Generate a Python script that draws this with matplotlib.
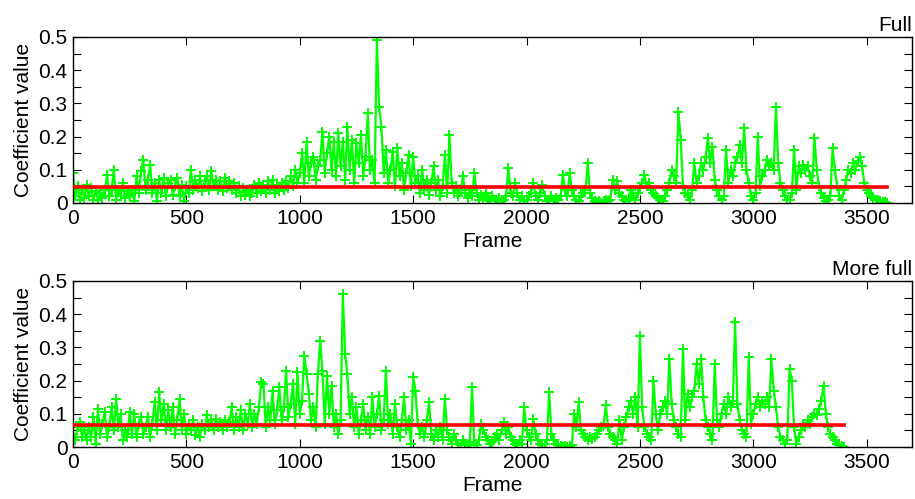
import numpy as np
import matplotlib
matplotlib.use("Agg")
import matplotlib.pyplot as plt
from matplotlib.ticker import MultipleLocator

plt.rcParams['font.family'] = ['Liberation Sans', 'DejaVu Sans']

# Coefficient values sampled every 10 frames
frame_step = 10

full_values = [
    0.09, 0.02, 0.05, 0.01, 0.04, 0.015, 0.055, 0.02, 0.045, 0.01,
    0.035, 0.01, 0.03, 0.015, 0.04, 0.085, 0.02, 0.04, 0.1, 0.01,
    0.04, 0.02, 0.06, 0.015, 0.035, 0.02, 0.04, 0.005, 0.08, 0.03,
    0.095, 0.13, 0.04, 0.07, 0.115, 0.03, 0.06, 0.005, 0.07, 0.03,
    0.075, 0.02, 0.06, 0.07, 0.025, 0.05, 0.075, 0.02, 0.055, 0.005,
    0.05, 0.03, 0.1, 0.04, 0.07, 0.045, 0.08, 0.035, 0.065, 0.08,
    0.04, 0.095, 0.05, 0.07, 0.04, 0.065, 0.035, 0.075, 0.045, 0.065,
    0.04, 0.06, 0.03, 0.05, 0.02, 0.045, 0.025, 0.04, 0.02, 0.03,
    0.055, 0.03, 0.06, 0.035, 0.055, 0.03, 0.065, 0.04, 0.07, 0.03,
    0.055, 0.035, 0.06, 0.04, 0.065, 0.045, 0.08, 0.05, 0.1, 0.06,
    0.09, 0.15, 0.06, 0.185, 0.08, 0.12, 0.14, 0.07, 0.11, 0.13,
    0.215, 0.09, 0.15, 0.2, 0.1, 0.185, 0.08, 0.21, 0.11, 0.185,
    0.07, 0.23, 0.1, 0.19, 0.06, 0.18, 0.12, 0.205, 0.08, 0.14,
    0.27, 0.1, 0.13, 0.06, 0.49, 0.29, 0.23, 0.09, 0.16, 0.06,
    0.1, 0.155, 0.05, 0.165, 0.08, 0.12, 0.04, 0.09, 0.145, 0.05,
    0.14, 0.06, 0.08, 0.03, 0.1, 0.04, 0.07, 0.025, 0.06, 0.11,
    0.04, 0.07, 0.02, 0.05, 0.145, 0.03, 0.205, 0.06, 0.03, 0.05,
    0.02, 0.04, 0.08, 0.03, 0.015, 0.04, 0.02, 0.09, 0.03, 0.01,
    0.025, 0.01, 0.03, 0.015, 0.005, 0.02, 0.01, 0.005, 0.015, 0.005,
    0.01, 0.02, 0.105, 0.03, 0.02, 0.06, 0.03, 0.01, 0.02, 0.005,
    0.01, 0.02, 0.03, 0.06, 0.02, 0.01, 0.03, 0.055, 0.02, 0.005,
    0.01, 0.02, 0.005, 0.015, 0.01, 0.02, 0.085, 0.04, 0.02, 0.09,
    0.04, 0.02, 0.01, 0.005, 0.02, 0.03, 0.04, 0.12, 0.03, 0.015,
    0.005, 0.0, 0.005, 0.0, 0.005, 0.01, 0.005, 0.01, 0.07, 0.04,
    0.065, 0.03, 0.02, 0.01, 0.005, 0.015, 0.04, 0.02, 0.01, 0.03,
    0.045, 0.06, 0.085, 0.05, 0.06, 0.04, 0.03, 0.02, 0.015, 0.01,
    0.005, 0.02, 0.04, 0.06, 0.1, 0.08, 0.06, 0.275, 0.19, 0.05,
    0.03, 0.02, 0.01, 0.04, 0.12, 0.06, 0.08, 0.12, 0.1, 0.14,
    0.195, 0.12, 0.17, 0.07, 0.04, 0.02, 0.01, 0.02, 0.16, 0.06,
    0.1, 0.08, 0.12, 0.14, 0.175, 0.12, 0.225, 0.1, 0.06, 0.02,
    0.01, 0.03, 0.2, 0.05, 0.08, 0.1, 0.13, 0.11, 0.12, 0.1,
    0.29, 0.12, 0.06, 0.04, 0.02, 0.01, 0.01, 0.03, 0.16, 0.04,
    0.11, 0.09, 0.115, 0.1, 0.11, 0.08, 0.06, 0.195, 0.1, 0.05,
    0.03, 0.015, 0.005, 0.01, 0.02, 0.165, 0.1, 0.05, 0.02, 0.01,
    0.04, 0.07, 0.1, 0.09, 0.12, 0.1, 0.125, 0.14, 0.11, 0.06,
    0.04, 0.03, 0.02, 0.015, 0.01, 0.008, 0.005, 0.004, 0.002, 0.001,
]

more_full_values = [
    0.04, 0.02, 0.06, 0.075, 0.03, 0.05, 0.02, 0.06, 0.03, 0.09,
    0.01, 0.115, 0.04, 0.07, 0.105, 0.03, 0.06, 0.12, 0.05, 0.145,
    0.06, 0.1, 0.02, 0.05, 0.03, 0.105, 0.04, 0.1, 0.03, 0.07,
    0.09, 0.04, 0.06, 0.09, 0.03, 0.07, 0.135, 0.05, 0.165, 0.08,
    0.13, 0.05, 0.11, 0.06, 0.12, 0.04, 0.08, 0.145, 0.05, 0.1,
    0.04, 0.07, 0.05, 0.08, 0.035, 0.06, 0.03, 0.07, 0.05, 0.095,
    0.06, 0.08, 0.05, 0.085, 0.06, 0.075, 0.05, 0.08, 0.06, 0.075,
    0.12, 0.05, 0.09, 0.06, 0.11, 0.05, 0.1, 0.07, 0.13, 0.06,
    0.1, 0.07, 0.12, 0.195, 0.19, 0.06, 0.12, 0.08, 0.17, 0.07,
    0.11, 0.18, 0.08, 0.12, 0.23, 0.09, 0.13, 0.19, 0.07, 0.225,
    0.1, 0.14, 0.275, 0.22, 0.16, 0.08, 0.12, 0.06, 0.22, 0.32,
    0.23, 0.07, 0.215, 0.1, 0.185, 0.06, 0.1, 0.04, 0.08, 0.46,
    0.28, 0.22, 0.1, 0.15, 0.06, 0.12, 0.04, 0.08, 0.13, 0.05,
    0.09, 0.04, 0.15, 0.06, 0.1, 0.155, 0.05, 0.08, 0.23, 0.07,
    0.1, 0.04, 0.13, 0.06, 0.03, 0.08, 0.15, 0.05, 0.08, 0.01,
    0.21, 0.17, 0.07, 0.04, 0.06, 0.03, 0.08, 0.135, 0.04, 0.02,
    0.05, 0.03, 0.06, 0.02, 0.145, 0.05, 0.03, 0.01, 0.04, 0.02,
    0.01, 0.005, 0.02, 0.01, 0.005, 0.015, 0.18, 0.01, 0.005, 0.02,
    0.07, 0.05, 0.03, 0.02, 0.01, 0.015, 0.03, 0.04, 0.02, 0.05,
    0.075, 0.04, 0.06, 0.03, 0.02, 0.01, 0.005, 0.02, 0.01, 0.12,
    0.05, 0.03, 0.02, 0.085, 0.04, 0.02, 0.01, 0.005, 0.01, 0.02,
    0.165, 0.04, 0.02, 0.01, 0.005, 0.002, 0.0, 0.002, 0.0, 0.002,
    0.005, 0.1, 0.06, 0.135, 0.05, 0.04, 0.03, 0.02, 0.03, 0.025,
    0.03, 0.04, 0.05, 0.06, 0.07, 0.125, 0.06, 0.04, 0.03, 0.02,
    0.01, 0.08, 0.02, 0.06, 0.09, 0.12, 0.14, 0.1, 0.15, 0.06,
    0.335, 0.12, 0.06, 0.04, 0.03, 0.02, 0.2, 0.1, 0.05, 0.1,
    0.12, 0.14, 0.1, 0.265, 0.13, 0.08, 0.06, 0.04, 0.03, 0.295,
    0.08, 0.16, 0.12, 0.15, 0.17, 0.25, 0.19, 0.265, 0.15, 0.08,
    0.06, 0.04, 0.02, 0.25, 0.08, 0.06, 0.1, 0.13, 0.1, 0.15,
    0.12, 0.14, 0.375, 0.13, 0.08, 0.05, 0.04, 0.03, 0.27, 0.07,
    0.1, 0.13, 0.15, 0.12, 0.14, 0.13, 0.15, 0.12, 0.265, 0.17,
    0.12, 0.06, 0.03, 0.02, 0.01, 0.02, 0.235, 0.2, 0.06, 0.01,
    0.03, 0.05, 0.07, 0.06, 0.08, 0.07, 0.09, 0.1, 0.095, 0.115,
    0.14, 0.185, 0.1, 0.06, 0.04, 0.03, 0.02, 0.01, 0.005, 0.002,
    0.0,
]

# Horizontal reference levels
full_level = 0.048
more_full_level = 0.065

panel_titles = ["Full", "More full"]
x_ticks = [0, 500, 1000, 1500, 2000, 2500, 3000, 3500]
y_ticks = [0, 0.1, 0.2, 0.3, 0.4, 0.5]
y_tick_labels = ["0", "0.1", "0.2", "0.3", "0.4", "0.5"]

fig = plt.figure(figsize=(9.15, 4.99), dpi=100)
ax_top = fig.add_axes([0.0798, 0.5932, 0.9169, 0.3327])
ax_bot = fig.add_axes([0.0798, 0.1042, 0.9169, 0.3327])

series = [(ax_top, full_values, full_level, panel_titles[0]),
          (ax_bot, more_full_values, more_full_level, panel_titles[1])]

for ax, vals, level, title in series:
    vals = np.asarray(vals)
    frames = np.arange(len(vals)) * frame_step
    ax.plot(frames, vals, color='#00ff00', linewidth=1.6, marker='+',
            markersize=7, markeredgewidth=1.4, zorder=2)
    ax.plot([frames[0], frames[-1]], [level, level], color='#ff0000',
            linewidth=2.6, zorder=3)
    ax.set_xlim(0, 3700)
    ax.set_ylim(0, 0.5)
    ax.set_xticks(x_ticks)
    ax.set_xticklabels([str(t) for t in x_ticks])
    ax.set_yticks(y_ticks)
    ax.set_yticklabels(y_tick_labels)
    ax.yaxis.set_minor_locator(MultipleLocator(0.05))
    ax.tick_params(axis='both', which='both', direction='in', top=True,
                   right=True, length=6, width=0.8, labelsize=15, pad=4)
    for sp in ax.spines.values():
        sp.set_linewidth(1.0)
    ax.set_xlabel("Frame", fontsize=15, labelpad=3)
    ax.set_ylabel("Coefficient value", fontsize=15, labelpad=4)
    ax.set_title(title, loc='right', fontsize=15, pad=4)

fig.savefig("out.png", dpi=100)
